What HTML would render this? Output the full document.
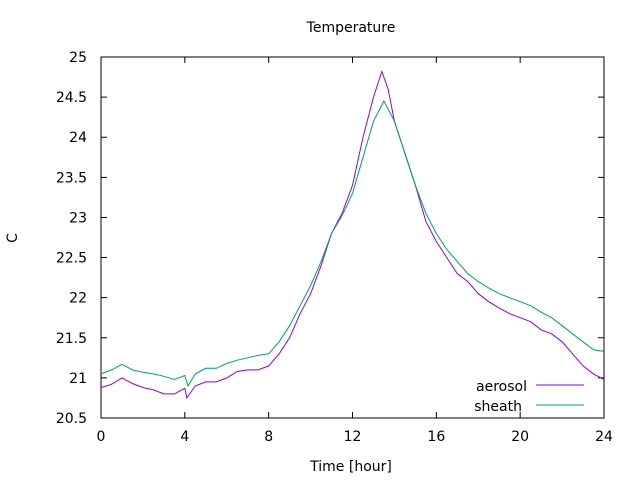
<!DOCTYPE html>
<html><head><meta charset="utf-8"><style>
body{margin:0;background:#fff}
svg text{font-family:"DejaVu Sans","Liberation Sans",sans-serif;font-size:14px;fill:#000}
</style></head><body>
<svg id="c" width="640" height="480">
<rect width="640" height="480" fill="#fff"/>
<text x="351" y="32" text-anchor="middle">Temperature</text>
<text x="351" y="471" text-anchor="middle">Time [hour]</text>
<text x="17" y="238" text-anchor="middle" transform="rotate(-90 17 238)">C</text>
<g id="axes"></g>
<g id="series"></g>
<g>
<text x="527" y="391" text-anchor="end">aerosol</text>
<line x1="536" y1="385" x2="584" y2="385" stroke="#9400d3"/>
<text x="522" y="411" text-anchor="end">sheath</text>
<line x1="536" y1="405" x2="584" y2="405" stroke="#009e73"/>
</g>
</svg>
<script>
const times=[0,0.5,1,1.5,2,2.5,3,3.5,4,4.1,4.5,5,5.5,6,6.5,7,7.5,8,8.5,9,9.5,10,10.5,11,11.5,12,12.5,13,13.4,13.7,14,14.5,15,15.5,16,16.5,17,17.5,18,18.5,19,19.5,20,20.5,21,21.5,22,22.5,23,23.5,24];
const aerosol=[20.88,20.92,21.0,20.93,20.88,20.85,20.8,20.8,20.87,20.75,20.9,20.95,20.95,21.0,21.08,21.1,21.1,21.15,21.3,21.5,21.8,22.05,22.4,22.8,23.05,23.4,24.0,24.5,24.82,24.6,24.2,23.8,23.4,22.95,22.7,22.5,22.3,22.2,22.05,21.95,21.87,21.8,21.75,21.7,21.6,21.55,21.45,21.3,21.15,21.05,20.98];
const sheathT=[0,0.5,1,1.5,2,2.5,3,3.5,4,4.15,4.5,5,5.5,6,6.5,7,7.5,8,8.5,9,9.5,10,10.5,11,11.5,12,12.5,13,13.5,14,14.5,15,15.5,16,16.5,17,17.5,18,18.5,19,19.5,20,20.5,21,21.5,22,22.5,23,23.5,24];
const sheath=[21.05,21.1,21.17,21.1,21.07,21.05,21.02,20.98,21.03,20.9,21.05,21.12,21.12,21.18,21.22,21.25,21.28,21.3,21.45,21.65,21.9,22.15,22.45,22.8,23.02,23.3,23.75,24.2,24.45,24.2,23.8,23.4,23.05,22.8,22.6,22.45,22.3,22.2,22.12,22.05,22.0,21.95,21.9,21.82,21.75,21.65,21.55,21.45,21.35,21.33];
const xTicks=[0,4,8,12,16,20,24];
const yTicks=[20.5,21,21.5,22,22.5,23,23.5,24,24.5,25];
const X0=101,X1=604,Y0=418,Y1=57;
const sx=t=>X0+(t-0)/(24-0)*(X1-X0);
const sy=v=>Y0-(v-20.5)/(25-20.5)*(Y0-Y1);
const NS="http://www.w3.org/2000/svg";
const ax=document.getElementById('axes');
function mk(tag,attrs,parent){const e=document.createElementNS(NS,tag);for(const k in attrs)e.setAttribute(k,attrs[k]);parent.appendChild(e);return e;}
const fr=mk('rect',{x:X0,y:Y1,width:X1-X0,height:Y0-Y1,fill:'none',stroke:'#000'},ax);


xTicks.forEach(t=>{const x=sx(t);
const l=mk('path',{d:`M${x},${Y0}v-6M${x},${Y1}v6`,stroke:'#000'},ax);


const tx=mk('text',{x:x,y:Y0+23,'text-anchor':'middle'},ax);tx.textContent=t;

});
yTicks.forEach(v=>{const y=sy(v);
const l=mk('path',{d:`M${X0},${y}h6M${X1},${y}h-6`,stroke:'#000'},ax);


const tx=mk('text',{x:87,y:y+5,'text-anchor':'end'},ax);tx.textContent=v;

});
const sg=document.getElementById('series');
function line(ts,vs,color,name){const d=ts.map((t,i)=>(i?'L':'M')+sx(t).toFixed(1)+','+sy(vs[i]).toFixed(1)).join('');
const p=mk('path',{d:d,fill:'none',stroke:color,'stroke-width':1},sg);

}
line(times,aerosol,'#9400d3','aerosol-line');
line(sheathT,sheath,'#009e73','sheath-line');
</script>
</body></html>
